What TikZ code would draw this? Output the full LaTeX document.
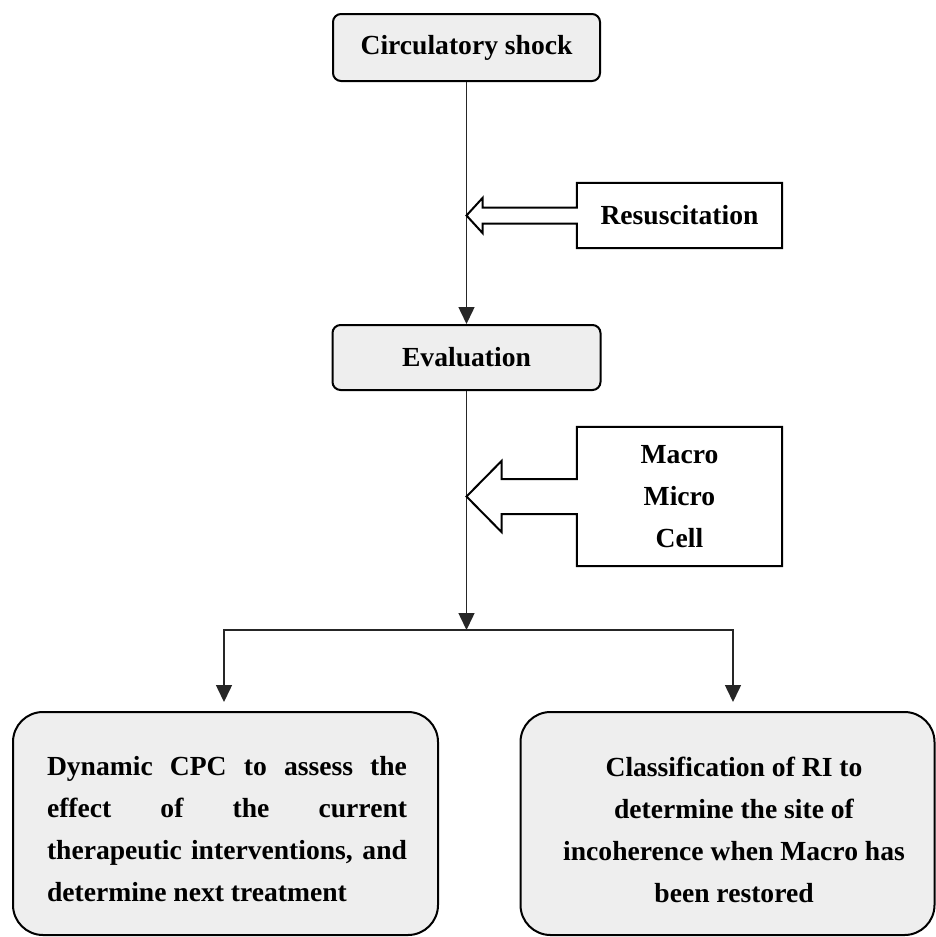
\documentclass[tikz,border=0pt]{standalone}
\usepackage{fontspec}
\setmainfont{Liberation Serif}
\usetikzlibrary{arrows.meta}
\definecolor{boxgray}{HTML}{EEEEEE}
\hyphenpenalty=10000
\begin{document}
\begin{tikzpicture}[x=1pt,y=-1pt,
  txt/.style={font=\fontsize{27.6}{42}\selectfont\bfseries},
  topbox/.style={txt, draw, line width=2pt, fill=boxgray, rounded corners=8pt, inner sep=0pt},
  bigbox/.style={draw, line width=2pt, fill=boxgray, rounded corners=30pt, inner sep=0pt},
  plainbox/.style={txt, inner sep=0pt},
  blockline/.style={draw, fill=white, line width=2pt, line join=miter},
  conn/.style={line width=1.5pt, black!85, -{Triangle[length=17pt,width=16pt]}}
]
\fill[white] (0,0) rectangle (935,937);
\useasboundingbox (0,0) rectangle (935,937);

% main boxes
\node[topbox, minimum width=267pt, minimum height=67pt] (shock) at (466.5,47.5) {Circulatory shock};
\node[topbox, minimum width=268pt, minimum height=65pt] (eval) at (466.5,357.5) {Evaluation};

% side boxes (text only, outlines drawn with the block arrows)
\node[plainbox, minimum width=205pt, minimum height=65pt] (resus) at (679.5,215.5) {};
\node[plainbox, minimum width=205pt, minimum height=139pt] (meas) at (679.5,496.5) {};

% bottom boxes
\node[bigbox, minimum width=425pt, minimum height=223pt] (dynbox) at (225.5,823.5) {};
\node[bigbox, minimum width=414pt, minimum height=223pt] (clsbox) at (727.5,823.5) {};
\node[txt, text width=360pt, align=justify, inner sep=0pt] (dyntext) at (227,829.5)
  {Dynamic CPC to assess the\linebreak effect of the current\linebreak therapeutic interventions, and determine next treatment};
\node[txt, align=center, inner sep=0pt] (clstext) at (734,829.5)
  {Classification of RI to\\determine the site of\\incoherence when Macro has\\been restored};

% connectors
\draw[conn] (shock.south) -- (shock.south |- eval.north);
\coordinate (split) at (466.5,630);
\draw[conn] (eval.south) -- (split);
\coordinate (lefttop) at (224,712);
\coordinate (righttop) at (733,712);
\draw[conn, shorten >=10pt] (split) -| (lefttop);
\draw[conn, shorten >=10pt] (split) -| (righttop);

% block arrow: Resuscitation
\coordinate (rtip) at (shock.south |- resus.west);
\path[blockline] (resus.north west) -- (resus.north east) -- (resus.south east) -- (resus.south west)
  -- ([yshift=-8pt]resus.west) -- ([xshift=16pt,yshift=-8pt]rtip) -- ([xshift=16pt,yshift=-17.5pt]rtip)
  -- (rtip) -- ([xshift=16pt,yshift=17.5pt]rtip) -- ([xshift=16pt,yshift=8pt]rtip)
  -- ([yshift=8pt]resus.west) -- cycle;
\node[plainbox] (resustext) at (resus.center) {Resuscitation};

% block arrow: Macro / Micro / Cell
\coordinate (mtip) at (shock.south |- meas.west);
\path[blockline] (meas.north west) -- (meas.north east) -- (meas.south east) -- (meas.south west)
  -- ([yshift=-17.5pt]meas.west) -- ([xshift=35pt,yshift=-17.5pt]mtip) -- ([xshift=35pt,yshift=-35.5pt]mtip)
  -- (mtip) -- ([xshift=35pt,yshift=35.5pt]mtip) -- ([xshift=35pt,yshift=17.5pt]mtip)
  -- ([yshift=17.5pt]meas.west) -- cycle;
\node[plainbox, align=center] (meastext) at (meas.center) {Macro\\Micro\\Cell};
\end{tikzpicture}
\end{document}
